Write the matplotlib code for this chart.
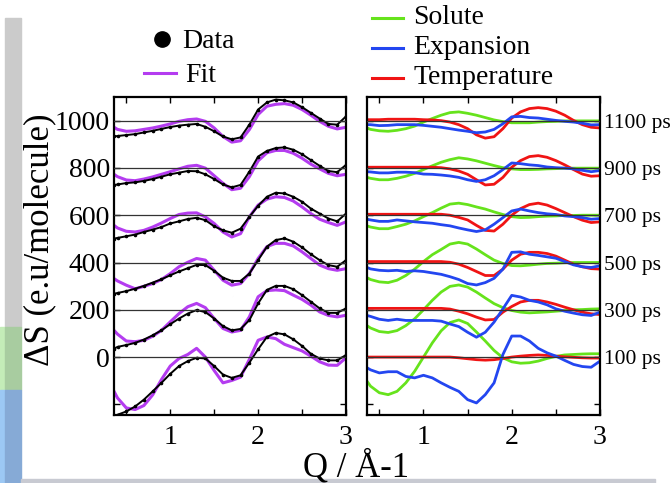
import matplotlib.pyplot as plt
from matplotlib.lines import Line2D
from matplotlib.patches import Rectangle

plt.rcParams['font.family'] = 'serif'
plt.rcParams['font.serif'] = ['Liberation Serif', 'DejaVu Serif']

# scattering vector Q (1/Angstrom)
q = [0.36, 0.4, 0.5, 0.6, 0.7, 0.8, 0.9, 1.0, 1.1, 1.2, 1.3, 1.4, 1.5, 1.6,
     1.7, 1.8, 1.9, 2.0, 2.1, 2.2, 2.3, 2.4, 2.5, 2.6, 2.7, 2.8, 2.9, 3.0]

offsets = [0, 200, 400, 600, 800, 1000]
delays = ['100 ps', '300 ps', '500 ps', '700 ps', '900 ps', '1100 ps']

# measured difference signal, one trace per delay (before offsetting)
data_0 = [-251, -244, -230, -209, -180, -145, -109, -71, -38, -17, -3, -6, -38, -74,
          -88, -77, -24, 33, 85, 102, 96, 75, 47, 14, -6, -14, -14, 9]
data_200 = [-164, -157, -149, -140, -126, -108, -87, -61, -37, -16, -1, -10, -37, -69,
            -87, -81, -44, 27, 84, 101, 101, 87, 62, 34, 6, -13, -13, 6]
data_400 = [-132, -129, -121, -111, -99, -85, -71, -54, -38, -24, -10, -11, -35, -64,
            -78, -78, -47, 10, 67, 95, 102, 88, 64, 35, 10, -11, -18, 10]
data_600 = [-99, -96, -89, -82, -71, -61, -50, -35, -26, -16, -11, -21, -47, -64,
            -74, -57, -7, 40, 78, 95, 92, 78, 57, 28, 7, -14, -26, 7]
data_800 = [-72, -70, -64, -61, -55, -47, -37, -27, -20, -13, -14, -27, -47, -70,
            -82, -72, -16, 48, 72, 84, 87, 77, 58, 33, 9, -13, -18, 13]
data_1000 = [-67, -65, -61, -57, -50, -43, -35, -27, -21, -17, -14, -26, -45, -67,
             -79, -71, -17, 47, 77, 89, 86, 77, 57, 33, 9, -14, -17, 18]

# fitted curves
fit_0 = [-145, -173, -215, -222, -205, -160, -95, -38, -6, 11, 37, 0, -57, -109,
         -99, -85, -10, 71, 85, 78, 54, 40, 26, 4, -20, -34, -35, -3]
fit_200 = [-87, -103, -132, -135, -129, -112, -87, -51, -16, 13, 27, 9, -37, -79,
           -94, -87, -30, 55, 81, 84, 81, 62, 44, 20, -9, -24, -30, -23]
fit_400 = [-68, -78, -96, -111, -101, -89, -72, -47, -18, 1, 17, 10, -33, -75,
           -96, -89, -47, 17, 67, 81, 81, 70, 45, 17, -11, -26, -33, -26]
fit_600 = [-43, -54, -68, -71, -64, -50, -33, -14, 3, 9, 10, -7, -35, -71,
           -92, -78, -7, 43, 68, 78, 75, 60, 35, 7, -17, -31, -43, -28]
fit_800 = [-27, -37, -51, -54, -47, -38, -27, -16, -4, 7, 11, -1, -33, -65,
           -92, -86, -37, 30, 64, 74, 74, 62, 41, 16, -4, -23, -33, -27]
fit_1000 = [-28, -37, -45, -43, -37, -31, -23, -14, -3, 4, 7, -3, -31, -67,
            -91, -85, -38, 26, 61, 69, 72, 65, 47, 23, -3, -24, -35, -28]

# fit components
solute_100 = [-102, -123, -151, -159, -145, -109, -60, 0, 60, 111, 146, 157, 142, 106,
              68, 28, -3, -20, -26, -24, -17, -6, 3, 9, 11, 13, 14, 14]
solute_300 = [-67, -77, -92, -96, -88, -67, -38, 0, 40, 75, 99, 105, 96, 75,
              50, 26, 9, -3, -10, -13, -11, -9, -6, -3, 0, 1, 3, 4]
solute_500 = [-64, -72, -82, -85, -75, -55, -28, 4, 33, 55, 78, 85, 78, 57,
              33, 10, -4, -13, -14, -11, -7, -4, -3, -1, 0, 0, 0, 0]
solute_700 = [-45, -50, -57, -57, -48, -38, -24, -6, 11, 30, 47, 51, 45, 35,
              26, 14, 3, -6, -10, -9, -6, -4, -3, -1, -1, 0, 0, 0]
solute_900 = [-40, -44, -50, -50, -44, -35, -23, -7, 9, 24, 35, 43, 38, 30,
              20, 10, 1, -4, -7, -7, -6, -4, -3, -1, -1, -1, -1, -1]
solute_1100 = [-31, -37, -43, -45, -41, -34, -23, -6, 9, 23, 34, 37, 31, 23,
               13, 3, -4, -9, -9, -9, -6, -4, -3, -1, -1, -1, -1, -1]

expansion_100 = [-45, -54, -67, -62, -62, -82, -88, -77, -88, -109, -128, -145, -180, -194,
                 -159, -109, 11, 89, 89, 68, 37, 18, 4, -14, -31, -40, -43, -17]
expansion_300 = [-24, -28, -40, -45, -40, -45, -45, -45, -45, -48, -60, -71, -95, -116,
                 -95, -52, 4, 61, 54, 40, 33, 21, 4, -6, -14, -21, -24, -10]
expansion_500 = [-21, -27, -33, -35, -33, -38, -35, -38, -44, -50, -60, -72, -89, -95,
                 -85, -67, -28, 43, 45, 35, 30, 24, 18, 4, -10, -18, -21, -14]
expansion_700 = [-17, -20, -26, -26, -20, -24, -28, -31, -34, -40, -45, -54, -62, -69,
                 -62, -38, -10, 18, 26, 18, 11, 6, 3, -3, -6, -10, -17, -14]
expansion_900 = [-16, -17, -21, -21, -18, -18, -20, -26, -27, -30, -34, -40, -50, -57,
                 -50, -33, -7, 21, 18, 13, 10, 4, 1, -1, -4, -10, -16, -11]
expansion_1100 = [-17, -17, -21, -20, -17, -17, -17, -20, -24, -28, -34, -40, -45, -51,
                  -48, -37, -13, 16, 18, 13, 11, 6, 1, -3, -6, -11, -18, -17]

temperature_100 = [0, 0, 0, 0, 0, 0, 0, 0, 0, 0, 0, -3, -7, -11,
                   -13, -11, -6, 0, 4, 7, 9, 7, 4, 1, -1, -3, -4, -4]
temperature_300 = [6, 6, 6, 6, 6, 6, 6, 6, 6, 6, 3, -6, -17, -31,
                   -43, -41, -10, 14, 33, 40, 40, 33, 23, 11, 0, -10, -17, -20]
temperature_500 = [4, 4, 4, 4, 4, 4, 4, 4, 4, 4, 1, -7, -21, -38,
                   -55, -55, -28, 10, 35, 43, 43, 38, 27, 10, -7, -18, -26, -28]
temperature_700 = [4, 4, 4, 4, 4, 4, 4, 4, 4, 4, 0, -9, -20, -43,
                   -64, -67, -38, 0, 28, 45, 51, 43, 28, 11, -6, -21, -31, -28]
temperature_900 = [3, 3, 3, 3, 3, 3, 3, 3, 3, 1, -4, -13, -27, -50,
                   -72, -69, -40, 3, 31, 48, 52, 45, 31, 13, -7, -26, -35, -33]
temperature_1100 = [4, 4, 4, 6, 6, 6, 6, 4, 3, 0, -6, -17, -34, -60,
                    -74, -68, -34, 11, 37, 51, 55, 51, 40, 23, 1, -17, -28, -31]

data_sets = [data_0, data_200, data_400, data_600, data_800, data_1000]
fit_sets = [fit_0, fit_200, fit_400, fit_600, fit_800, fit_1000]
solute_sets = [solute_100, solute_300, solute_500, solute_700, solute_900, solute_1100]
expansion_sets = [expansion_100, expansion_300, expansion_500, expansion_700, expansion_900, expansion_1100]
temperature_sets = [temperature_100, temperature_300, temperature_500, temperature_700, temperature_900, temperature_1100]

PURPLE = '#b43cf0'
GREEN = '#66e31c'
BLUE = '#2346f0'
RED = '#f01414'

W, H = 670, 483
fig = plt.figure(figsize=(6.7, 4.83), dpi=100)


def fx(px):
    return px / W


def fy(py):
    return 1 - py / H


# slide background pieces on the left edge
fig.patches.append(Rectangle((fx(5), fy(327)), fx(16), fy(18) - fy(327),
                             transform=fig.transFigure, color='#cbcbcb', zorder=0))
fig.patches.append(Rectangle((0, fy(390)), fx(5), fy(327) - fy(390),
                             transform=fig.transFigure, color='#c4ecb8', zorder=0))
fig.patches.append(Rectangle((fx(5), fy(390)), fx(16), fy(327) - fy(390),
                             transform=fig.transFigure, color='#a8cca0', zorder=0))
fig.patches.append(Rectangle((0, 0), fx(5), fy(390),
                             transform=fig.transFigure, color='#9cc8f4', zorder=0))
fig.patches.append(Rectangle((fx(5), 0), fx(16), fy(390),
                             transform=fig.transFigure, color='#86aad6', zorder=0))
fig.patches.append(Rectangle((fx(21), 0), fx(634), fy(479),
                             transform=fig.transFigure, color='#c8cad2', zorder=0))

ax1 = fig.add_axes([fx(114), fy(415), fx(232), fy(97) - fy(415)])
ax2 = fig.add_axes([fx(367), fy(415), fx(233), fy(97) - fy(415)])

for off, d, f in zip(offsets, data_sets, fit_sets):
    ax1.plot(q, [v + off for v in f], color=PURPLE, lw=2.2, zorder=2)
    ax1.plot(q, [v + off for v in d], color='black', lw=1.4, marker='o', ms=1.6, zorder=2.5)

for off, s, e, t in zip(offsets, solute_sets, expansion_sets, temperature_sets):
    ax2.plot(q, [v + off for v in s], color=GREEN, lw=2.0, zorder=2)
    ax2.plot(q, [v + off for v in t], color=RED, lw=2.0, zorder=2.2)
    ax2.plot(q, [v + off for v in e], color=BLUE, lw=2.0, zorder=2.4)

for ax in (ax1, ax2):
    ax.set_xlim(0.36, 3.0)
    ax.set_ylim(-245, 1100)
    for off in offsets:
        ax.axhline(off, color='#333333', lw=0.9, zorder=3)
    ax.set_xticks([0.5, 1, 1.5, 2, 2.5, 3])
    ax.set_xticklabels(['', '1', '', '2', '', '3'])
    ax.set_yticks([-200, 0, 200, 400, 600, 800, 1000])
    ax.tick_params(direction='in', length=4, width=1, top=True, right=True,
                   labelsize=20, pad=7)
    ax.tick_params(axis='y', pad=3)
    for sp in ax.spines.values():
        sp.set_linewidth(1.6)

ax1.set_yticklabels(['', '0', '200', '400', '600', '800', '1000'])
ax2.set_yticklabels([])

# delay labels beside the component panel
for off, lab in zip(offsets, delays):
    ax2.annotate(lab, xy=(1.0, off), xycoords=('axes fraction', 'data'),
                 xytext=(3, -2), textcoords='offset points', va='center',
                 ha='left', fontsize=15.5, annotation_clip=False)

fig.text(fx(40), fy(240), 'ΔS (e.u/molecule)', rotation=90, ha='center',
         va='center', fontsize=25)
fig.text(fx(356), fy(476), 'Q / Å-1', ha='center', va='baseline', fontsize=25)

# legends
fig.add_artist(Line2D([fx(162)], [fy(39)], marker='o', ms=11, color='black',
                      transform=fig.transFigure))
fig.text(fx(182), fy(42), 'Data', va='center', ha='left', fontsize=20)
fig.add_artist(Line2D([fx(144), fx(176)], [fy(73), fy(73)], color=PURPLE, lw=2.2,
                      transform=fig.transFigure))
fig.text(fx(185), fy(75), 'Fit', va='center', ha='left', fontsize=20)

for yy, col, lab in [(18, GREEN, 'Solute'), (48, BLUE, 'Expansion'), (78, RED, 'Temperature')]:
    fig.add_artist(Line2D([fx(372), fx(403)], [fy(yy), fy(yy)], color=col, lw=2.2,
                          transform=fig.transFigure))
    fig.text(fx(413), fy(yy), lab, va='center', ha='left', fontsize=20)

fig.savefig('out.png', dpi=100)
